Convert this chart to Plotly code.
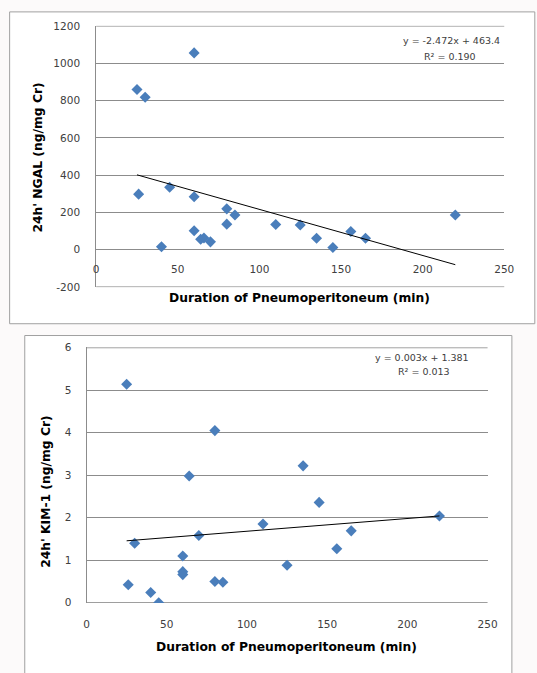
import plotly.graph_objects as go

# ---- data: 24h' NGAL ----
ngal_x = [60, 25, 30, 26, 45, 60, 40, 60, 64, 66, 70, 80, 80, 85, 110, 125, 135, 145, 156, 165, 220]
ngal_y = [1056, 860, 818, 298, 335, 284, 16, 102, 56, 63, 42, 219, 137, 186, 135, 132, 61, 12, 98, 61, 186]
ngal_slope, ngal_int = -2.472, 463.4
ngal_eq = ["y = -2.472x + 463.4", "R² = 0.190"]
ngal_yticks = [-200, 0, 200, 400, 600, 800, 1000, 1200]
ngal_yticktext = ["-200", "0", "200", "400", "600", "800", "1000", "1200"]

# ---- data: 24h' KIM-1 ----
kim_x = [25, 80, 64, 135, 145, 220, 110, 165, 70, 30, 156, 60, 125, 60, 60, 80, 85, 26, 40, 45]
kim_y = [5.14, 4.05, 2.98, 3.22, 2.36, 2.04, 1.85, 1.69, 1.58, 1.40, 1.27, 1.10, 0.88, 0.73, 0.66, 0.50, 0.48, 0.42, 0.24, 0.0]
kim_slope, kim_int = 0.003, 1.381
kim_eq = ["y = 0.003x + 1.381", "R² = 0.013"]
kim_yticks = [0, 1, 2, 3, 4, 5, 6]

x_ticks = [0, 50, 100, 150, 200, 250]
trend_x = [25, 220]

W, H = 537, 673
def px(v): return v / W
def py(v): return 1 - v / H

BLUE = "#4a7ebb"
GRID = "#8c8c8c"
TXT = "#404040"
FONT = "DejaVu Sans"

fig = go.Figure()
fig.add_trace(go.Scatter(x=ngal_x, y=ngal_y, mode="markers", xaxis="x", yaxis="y",
                         marker=dict(symbol="diamond", size=8.5, color=BLUE), showlegend=False))
fig.add_trace(go.Scatter(x=trend_x, y=[ngal_slope * t + ngal_int for t in trend_x], mode="lines",
                         xaxis="x", yaxis="y", line=dict(color="black", width=1), showlegend=False))
fig.add_trace(go.Scatter(x=kim_x, y=kim_y, mode="markers", xaxis="x2", yaxis="y2",
                         marker=dict(symbol="diamond", size=8.5, color=BLUE), showlegend=False))
fig.add_trace(go.Scatter(x=trend_x, y=[kim_slope * t + kim_int for t in trend_x], mode="lines",
                         xaxis="x2", yaxis="y2", line=dict(color="black", width=1), showlegend=False))

tickfont = dict(family=FONT, size=10.5, color=TXT)
fig.update_layout(
    width=W, height=H, margin=dict(l=0, r=0, t=0, b=0),
    paper_bgcolor="#fcfafa", plot_bgcolor="white",
    xaxis=dict(domain=[px(95.5), px(513.7)], range=[0, 250], tickvals=x_ticks, showgrid=False,
               zeroline=False, showline=False, anchor="free", position=py(248),
               tickfont=tickfont, ticks="", ticklabelstandoff=12),
    yaxis=dict(domain=[py(286), py(20)], range=[-202, 1202], tickvals=ngal_yticks, ticktext=ngal_yticktext,
               showgrid=True, gridcolor=GRID, gridwidth=1, zeroline=False, showline=True, linecolor=GRID,
               tickfont=tickfont, ticks="", ticklabelstandoff=13, anchor="x"),
    xaxis2=dict(domain=[px(85.6), px(496.6)], range=[0, 250], tickvals=x_ticks, showgrid=False,
                zeroline=False, showline=False, anchor="y2",
                tickfont=tickfont, ticks="", ticklabelstandoff=13),
    yaxis2=dict(domain=[py(607), py(347)], range=[-0.01, 6.01], tickvals=kim_yticks, showgrid=True,
                gridcolor=GRID, gridwidth=1, zeroline=False, showline=True, linecolor=GRID,
                tickfont=tickfont, ticks="", ticklabelstandoff=12, anchor="x2"),
)

shapes = [
    dict(type="rect", xref="paper", yref="paper", x0=px(6.8), x1=px(545), y0=py(323), y1=py(6),
         line=dict(color="#a0a0a0", width=1), fillcolor="white", layer="below"),
    dict(type="rect", xref="paper", yref="paper", x0=px(22.3), x1=px(521.5), y0=py(685), y1=py(335),
         line=dict(color="#a0a0a0", width=1), fillcolor="white", layer="below"),
]
# boundary grid lines (top and bottom of each plot area)
for yv in (min(ngal_yticks), max(ngal_yticks)):
    shapes.append(dict(type="line", xref="x domain", yref="y", x0=0, x1=1, y0=yv, y1=yv,
                       line=dict(color=GRID, width=1), layer="below"))
for yv in (min(kim_yticks), max(kim_yticks)):
    shapes.append(dict(type="line", xref="x2 domain", yref="y2", x0=0, x1=1, y0=yv, y1=yv,
                       line=dict(color=GRID, width=1), layer="below"))
fig.update_layout(shapes=shapes)

ann = []
titlefont = dict(family=FONT, size=12.3, color="black")
ann.append(dict(text="<b>Duration of Pneumoperitoneum (min)</b>", x=px(304), y=py(297), xref="paper", yref="paper",
                showarrow=False, font=titlefont, xanchor="center", yanchor="middle"))
ann.append(dict(text="<b>24h' NGAL (ng/mg Cr)</b>", x=px(36), y=py(154), xref="paper", yref="paper",
                showarrow=False, font=titlefont, textangle=-90, xanchor="center", yanchor="middle"))
ann.append(dict(text="<b>Duration of Pneumoperitoneum (min)</b>", x=px(291), y=py(652), xref="paper", yref="paper",
                showarrow=False, font=titlefont, xanchor="center", yanchor="middle"))
ann.append(dict(text="<b>24h' KIM-1 (ng/mg Cr)</b>", x=px(44), y=py(494), xref="paper", yref="paper",
                showarrow=False, font=titlefont, textangle=-90, xanchor="center", yanchor="middle"))
eqfont = dict(family=FONT, size=9.5, color=TXT)
ann.append(dict(text=ngal_eq[0], x=px(511), y=py(35), xref="paper", yref="paper", showarrow=False,
                font=eqfont, xanchor="right", yanchor="middle"))
ann.append(dict(text=ngal_eq[1], x=px(458.6), y=py(51), xref="paper", yref="paper", showarrow=False,
                font=eqfont, xanchor="center", yanchor="middle"))
ann.append(dict(text=kim_eq[0], x=px(479.5), y=py(357), xref="paper", yref="paper", showarrow=False,
                font=eqfont, xanchor="right", yanchor="middle"))
ann.append(dict(text=kim_eq[1], x=px(431.8), y=py(372), xref="paper", yref="paper", showarrow=False,
                font=eqfont, xanchor="center", yanchor="middle"))
fig.update_layout(annotations=ann)

fig.write_html("out.html", config={"displayModeBar": False},
               post_script="document.body.style.margin='0';document.body.style.overflow='hidden';")
